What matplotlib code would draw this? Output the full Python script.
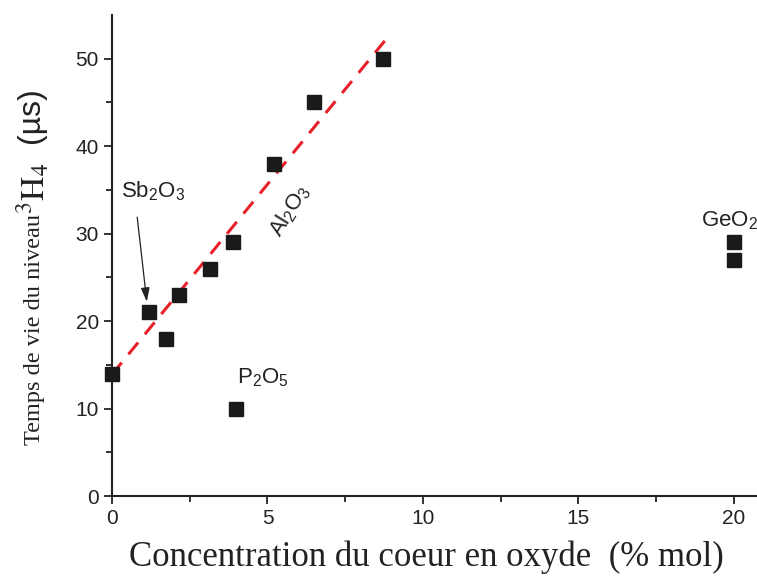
import matplotlib
matplotlib.use("Agg")
import matplotlib.pyplot as plt
import numpy as np

plt.rcParams["mathtext.fontset"] = "custom"
plt.rcParams["mathtext.rm"] = "Liberation Sans"
plt.rcParams["mathtext.it"] = "Liberation Sans:italic"

# measured points (oxide concentration % mol, 3H4 lifetime us)
conc = [0.0, 1.2, 1.75, 2.15, 3.15, 3.9, 5.2, 6.5, 8.7, 4.0, 20.0, 20.0]
tau = [14, 21, 18, 23, 26, 29, 38, 45, 50, 10, 29, 27]

# linear fit drawn through the Al2O3 series
fit_x = [0.0, 8.9]
fit_y = [13.9, 52.6]

x_ticks = [0, 5, 10, 15, 20]
y_ticks = [0, 10, 20, 30, 40, 50]

W, H = 757, 578
INK = "#222222"
fig = plt.figure(figsize=(W / 100, H / 100), dpi=100)
ax = fig.add_axes([112 / W, 82 / H, 653 / W, 481 / H])

ax.plot(conc, tau, "s", color="#1a1a1a", ms=9.5, zorder=3, clip_on=False)
ax.plot(fit_x, fit_y, "--", color="#e8202a", lw=2.2, dashes=(5, 3.5), zorder=2)

ax.set_xlim(0, 21)
ax.set_ylim(0, 55)
ax.set_xticks(x_ticks)
ax.set_yticks(y_ticks)
ax.set_xticks(np.arange(2.5, 21, 5), minor=True)
ax.set_yticks(np.arange(5, 55, 10), minor=True)
for s in ("top", "right"):
    ax.spines[s].set_visible(False)
for s in ("left", "bottom"):
    ax.spines[s].set_linewidth(1.5)
    ax.spines[s].set_color(INK)
ax.tick_params(which="major", length=6, width=1.3, direction="out",
               labelsize=15, colors=INK)
ax.tick_params(which="minor", length=4, width=1.3, direction="out", colors=INK)
for lab in ax.get_xticklabels() + ax.get_yticklabels():
    lab.set_family("Liberation Sans")

ax.set_xlabel("Concentration du coeur en oxyde  (% mol)",
              family="Liberation Serif", fontsize=25, color=INK)
ax.xaxis.set_label_coords(0.4816, -0.092)

# y label assembled from three pieces
fig.text(35 / W, 1 - 445 / H, "Temps de vie du niveau", rotation=90,
         ha="center", va="bottom", family="Liberation Serif", fontsize=17.5,
         color=INK)
fig.text(33 / W, 1 - 214 / H, r"$^{3}\mathrm{H}_{4}$", rotation=90,
         ha="center", va="bottom", fontsize=24, color=INK,
         math_fontfamily="stix")
fig.text(31 / W, 1 - 143 / H, "(µs)", rotation=90, ha="center",
         va="bottom", family="Liberation Sans", fontsize=23, color=INK)

lab_kw = dict(family="Liberation Sans", fontsize=16, color=INK,
              va="baseline", clip_on=False)
ax.text(0.28, 34.1, r"Sb$_2$O$_3$", **lab_kw)
ax.annotate("", xy=(1.13, 21.9), xytext=(0.8, 32.2),
            arrowprops=dict(arrowstyle="-|>,head_length=0.7,head_width=0.22",
                            color=INK, lw=0.9, mutation_scale=12))
ax.text(4.02, 12.9, r"P$_2$O$_5$", **lab_kw)
ax.text(18.95, 30.8, r"GeO$_2$", **lab_kw)
ax.text(5.72, 32.6, r"Al$_2$O$_3$", rotation=58, ha="center", va="center",
        rotation_mode="anchor", family="Liberation Sans", fontsize=16,
        color=INK)

fig.savefig("out.png", dpi=100)
